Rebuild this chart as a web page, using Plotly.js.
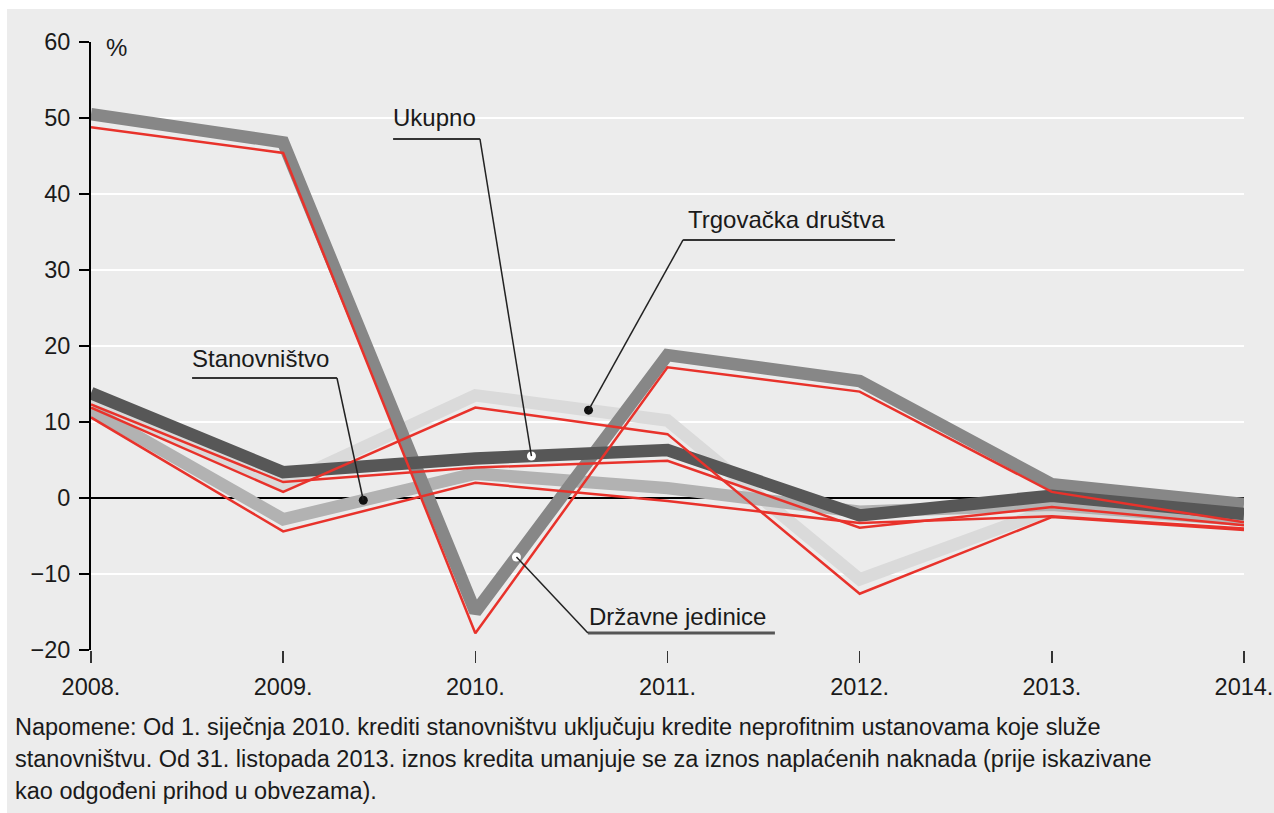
<!DOCTYPE html>
<html>
<head>
<meta charset="utf-8">
<script src="https://cdn.plot.ly/plotly-3.0.1.min.js"></script>
<style>
html,body{margin:0;padding:0;background:#ffffff;}
#chart{position:absolute;left:7px;top:9px;width:1267px;height:804px;}
</style>
</head>
<body>
<div id="chart"></div>
<script>
// ---- data ----
const years = [2008, 2009, 2010, 2011, 2012, 2013, 2014];
const yearLabels = ['2008.', '2009.', '2010.', '2011.', '2012.', '2013.', '2014.'];

const drzavneGrey = [50.5, 46.8, -15.0, 18.8, 15.4, 1.8, -0.8];
const drzavneRed  = [48.8, 45.4, -17.8, 17.2, 14.0, 0.8, -3.2];

const trgovackaGrey = [12.8, 1.8, 13.5, 10.2, -10.7, -1.5, -2.8];
const trgovackaRed  = [11.9, 0.8, 11.9, 8.4, -12.6, -2.5, -4.2];

const stanovnistvoGrey = [11.6, -2.8, 3.2, 1.3, -1.8, -0.9, -2.9];
const stanovnistvoRed  = [10.6, -4.4, 2.0, -0.4, -3.3, -2.4, -4.0];

const ukupnoGrey = [13.8, 3.4, 5.2, 6.3, -2.3, 0.3, -2.1];
const ukupnoRed  = [12.3, 2.1, 4.0, 4.9, -3.9, -1.2, -3.6];

const yTicks = [-20, -10, 0, 10, 20, 30, 40, 50, 60];

// ---- helpers ----
function interp(arr, x) {
  const i = Math.min(Math.floor(x - years[0]), years.length - 2);
  const t = x - years[i];
  return arr[i] + (arr[i + 1] - arr[i]) * t;
}

const FONT = 'Liberation Sans, Arial, Helvetica, sans-serif';
const RED = '#e8322b';
const GW = 12.5;

function greyTrace(y, color) {
  return {x: years, y: y, type: 'scatter', mode: 'lines',
    line: {color: color, width: GW, shape: 'linear'}, hoverinfo: 'skip', showlegend: false};
}
function redTrace(y) {
  return {x: years, y: y, type: 'scatter', mode: 'lines',
    line: {color: RED, width: 2.5}, hoverinfo: 'skip', showlegend: false};
}

// dot positions along series (x positions of label pointers)
const dots = [
  {x: 2009.417, s: stanovnistvoGrey, fill: '#111111'},
  {x: 2010.292, s: ukupnoGrey, fill: '#ffffff'},
  {x: 2010.589, s: trgovackaGrey, fill: '#111111'},
  {x: 2010.214, s: drzavneGrey, fill: '#ffffff'}
];
dots.forEach(d => d.y = interp(d.s, d.x));

const traces = [
  greyTrace(trgovackaGrey, '#dadada'),
  greyTrace(stanovnistvoGrey, '#b2b2b2'),
  greyTrace(drzavneGrey, '#878787'),
  greyTrace(ukupnoGrey, '#575757'),
  redTrace(trgovackaRed),
  redTrace(stanovnistvoRed),
  redTrace(drzavneRed),
  redTrace(ukupnoRed),
  {x: dots.map(d => d.x), y: dots.map(d => d.y), type: 'scatter', mode: 'markers',
   marker: {size: 9, color: dots.map(d => d.fill), line: {width: 0}},
   hoverinfo: 'skip', showlegend: false, cliponaxis: false}
];

// label geometry (layout positions)
const labels = [
  {text: 'Ukupno', tx: 2009.565, ty: 48.1, ux0: 2009.572, ux1: 2010.024, uy: 47.24, dot: dots[1], uw: 2, uc: '#333333', lx: 2010.024},
  {text: 'Trgovačka društva', tx: 2011.1, ty: 34.7, ux0: 2011.081, ux1: 2012.184, uy: 33.95, dot: dots[2], uw: 2, uc: '#333333', lx: 2011.081},
  {text: 'Stanovništvo', tx: 2008.52, ty: 16.5, ux0: 2008.526, ux1: 2009.28, uy: 15.79, dot: dots[0], uw: 2, uc: '#333333', lx: 2009.28},
  {text: 'Državne jedinice', tx: 2010.585, ty: -17.5, ux0: 2010.586, ux1: 2011.559, uy: -17.76, dot: dots[3], uw: 3, uc: '#555555', lx: 2010.586}
];

const shapes = [];
const annotations = [];
labels.forEach(l => {
  shapes.push({type: 'line', xref: 'x', yref: 'y', x0: l.ux0, x1: l.ux1, y0: l.uy, y1: l.uy,
    line: {color: l.uc, width: l.uw}, layer: 'above'});
  shapes.push({type: 'line', xref: 'x', yref: 'y', x0: l.lx, y0: l.uy, x1: l.dot.x, y1: l.dot.y,
    line: {color: '#222222', width: 1.5}, layer: 'above'});
  annotations.push({text: l.text, xref: 'x', yref: 'y', x: l.tx, y: l.ty,
    xanchor: 'left', yanchor: 'bottom', showarrow: false, borderpad: 0,
    font: {family: FONT, size: 24, color: '#1a1a1a'}});
});

annotations.push({text: '%', xref: 'paper', yref: 'paper', x: 0.011, y: (650 - 47) / 608,
  xanchor: 'left', yanchor: 'middle', showarrow: false,
  font: {family: FONT, size: 24, color: '#1a1a1a'}});

const notes = [
  'Napomene: Od 1. siječnja 2010. krediti stanovništvu uključuju kredite neprofitnim ustanovama koje služe',
  'stanovništvu. Od 31. listopada 2013. iznos kredita umanjuje se za iznos naplaćenih naknada (prije iskazivane',
  'kao odgođeni prihod u obvezama).'
];
notes.forEach((t, i) => {
  const centerPx = 727 + 32 * i;
  annotations.push({text: t, xref: 'paper', yref: 'paper',
    x: (13 - 91) / 1153, y: (650 - centerPx) / 608,
    xanchor: 'left', yanchor: 'middle', showarrow: false, align: 'left',
    font: {family: FONT, size: 23.5, color: '#1a1a1a'}});
});

const layout = {
  width: 1267, height: 804,
  margin: {l: 84, r: 30, t: 33, b: 163, pad: 0},
  paper_bgcolor: '#ececec',
  plot_bgcolor: '#ececec',
  showlegend: false,
  font: {family: FONT, size: 24, color: '#1a1a1a'},
  xaxis: {
    range: [2008, 2014], tickvals: years, ticktext: yearLabels,
    showgrid: false, zeroline: false, showline: false,
    ticks: 'outside', ticklen: 12, tickwidth: 1.5, tickcolor: '#333333',
    ticklabelstandoff: 4,
    tickfont: {family: FONT, size: 23.5, color: '#1a1a1a'}, fixedrange: true
  },
  yaxis: {
    range: [-20, 60], tickvals: yTicks,
    showgrid: true, gridcolor: '#ffffff', gridwidth: 2,
    zeroline: true, zerolinecolor: '#000000', zerolinewidth: 2,
    showline: true, linecolor: '#000000', linewidth: 2,
    ticks: 'outside', ticklen: 10, tickwidth: 2, tickcolor: '#000000',
    ticklabelstandoff: 4,
    tickfont: {family: FONT, size: 23.5, color: '#1a1a1a'}, fixedrange: true
  },
  shapes: shapes,
  annotations: annotations
};

Plotly.newPlot('chart', traces, layout, {displayModeBar: false, staticPlot: true});
</script>
</body>
</html>
